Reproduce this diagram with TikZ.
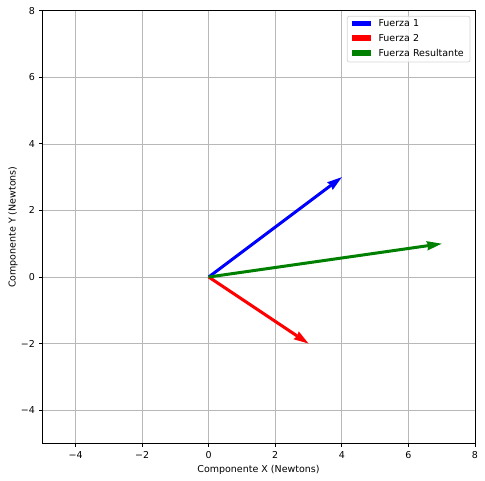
\documentclass[tikz,border=0pt]{standalone}
\usepackage{fontspec}
\setmainfont{DejaVu Sans}
\usetikzlibrary{arrows.meta}
\definecolor{gridgray}{HTML}{B8B8B8}
\definecolor{mplgreen}{HTML}{008000}
\definecolor{legedge}{HTML}{D6D6D6}
\begin{document}
\begin{tikzpicture}[x=1pt,y=-1pt, font=\fontsize{9.5}{11}\selectfont,
  vec/.style={line width=3pt, -{Stealth[length=15pt,width=9.5pt,inset=1.5pt,line width=0pt]}},
  gridline/.style={gridgray, line width=0.65pt},
  spine/.style={black, line width=0.76pt},
  lab/.style={inner sep=0pt},
]
\useasboundingbox (0,0) rectangle (485,481);
\begin{scope}[shift={(208.7,277)}, x=33.28pt, y=33.28pt]
  \foreach \v in {-4,-2,0,2,4,6}{
    \draw[gridline] (\v,-5) -- (\v,8);
    \draw[gridline] (-5,\v) -- (8,\v);
  }
  \coordinate (O) at (0,0);
  \coordinate (F1) at (4,3);
  \coordinate (F2) at (3,-2);
  \coordinate (FR) at (7,1);
  \draw[vec, blue] (O) -- (F1);
  \draw[vec, red] (O) -- (F2);
  \draw[vec, mplgreen] (O) -- (FR);
  \draw[spine] (-5,-5) rectangle (8,8);
  \foreach \v/\t in {-4/−4,-2/−2,0/0,2/2,4/4,6/6,8/8}{
    \draw[spine] (\v,-5) -- ++(0pt,-3.3pt);
    \node[lab, anchor=north, yshift=-8.2pt] (xt\v) at (\v,-5) {\t};
    \draw[spine] (-5,\v) -- ++(-3.3pt,0pt);
    \node[lab, anchor=east, xshift=-7.3pt] (yt\v) at (-5,\v) {\t};
  }
\end{scope}
\node[lab] (xlabel) at (258.5,469.6) {Componente X (Newtons)};
\node[lab, rotate=90] (ylabel) at (13,227.2) {Componente Y (Newtons)};
% legend
\draw[legedge, fill=white, fill opacity=0.8, rounded corners=2pt, line width=0.76pt] (347.3,16.3) rectangle (470,62);
\fill[blue] (351.7,20.6) rectangle (370.7,26.4);
\fill[red] (351.7,35.3) rectangle (370.7,41.1);
\fill[mplgreen] (351.7,49.8) rectangle (370.7,55.6);
\node[lab, anchor=west] (l1) at (378.3,23.5) {Fuerza 1};
\node[lab, anchor=west] (l2) at (378.3,38.2) {Fuerza 2};
\node[lab, anchor=west] (l3) at (378.3,52.7) {Fuerza Resultante};
\end{tikzpicture}
\end{document}
